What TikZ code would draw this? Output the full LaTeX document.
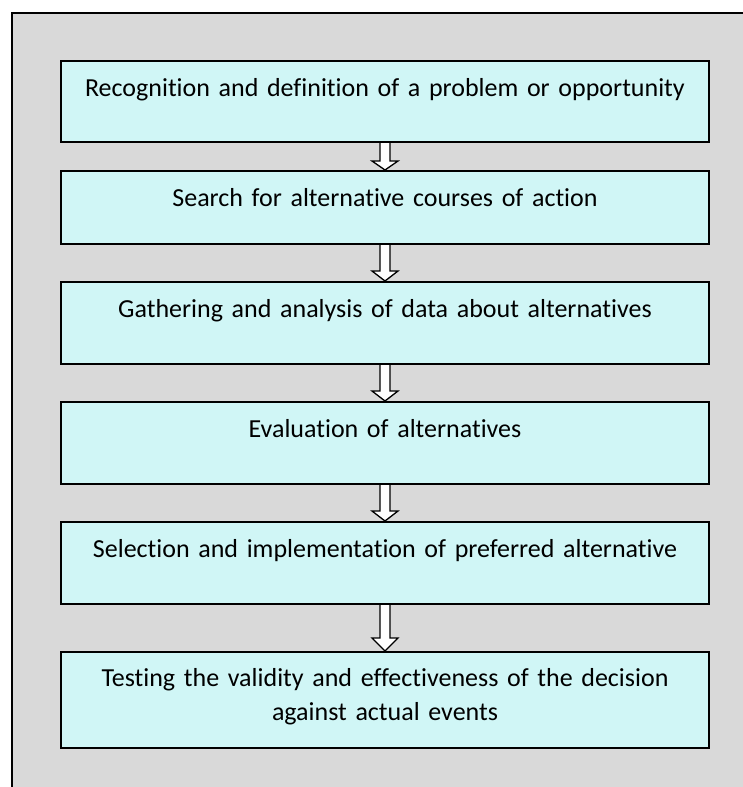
\documentclass[tikz,border=0pt]{standalone}
\usepackage{fontspec}
\setmainfont{Carlito}[Ligatures=NoCommon]
\usetikzlibrary{calc}
\definecolor{bggray}{RGB}{217,217,217}
\definecolor{boxcyan}{RGB}{208,246,246}
\begin{document}
\begin{tikzpicture}[x=1pt,y=-1pt,
  stepbox/.style={draw=black,line width=2pt,fill=boxcyan,anchor=north west,minimum width=648pt,inner sep=0pt},
  steptext/.style={anchor=north,align=center,font=\fontsize{26}{34}\selectfont,inner sep=0pt,text width=640pt},
  flowarrow/.style={draw=black,line width=1.3pt,fill=white,line join=miter}]
\useasboundingbox (0,0) rectangle (743,787);
\fill[white] (0,0) rectangle (743,787);
\fill[bggray] (12,13) rectangle (743,787);
\draw[line width=2pt] (12,787) -- (12,13) -- (743,13);

\node[stepbox,minimum height=81pt] (b1) at (60,60) {};
\node[stepbox,minimum height=73pt] (b2) at (60,170) {};
\node[stepbox,minimum height=82pt] (b3) at (60,281) {};
\node[stepbox,minimum height=82pt] (b4) at (60,401) {};
\node[stepbox,minimum height=82pt] (b5) at (60,521) {};
\node[stepbox,minimum height=96pt] (b6) at (60,651) {};

\node[steptext] (t1) at ($(b1.north)+(0,18)$) {Recognition and definition of a problem or opportunity};
\node[steptext] (t2) at ($(b2.north)+(0,18)$) {Search for alternative courses of action};
\node[steptext] (t3) at ($(b3.north)+(0,18)$) {Gathering and analysis of data about alternatives};
\node[steptext] (t4) at ($(b4.north)+(0,18)$) {Evaluation of alternatives};
\node[steptext] (t5) at ($(b5.north)+(0,18)$) {Selection and implementation of preferred alternative};
\node[steptext] (t6) at ($(b6.north)+(0,17)$) {Testing the validity and effectiveness of the decision\\against actual events};

\foreach \a/\b/\h in {b1/b2/9,b2/b3/10,b3/b4/10,b4/b5/10,b5/b6/13}{
  \draw[flowarrow] ($(\a.south)+(-5,0)$) -- ($(\b.north)+(-5,-\h)$) -- ($(\b.north)+(-13,-\h)$)
    -- (\b.north) -- ($(\b.north)+(13,-\h)$) -- ($(\b.north)+(5,-\h)$) -- ($(\a.south)+(5,0)$);
}
\end{tikzpicture}
\end{document}
